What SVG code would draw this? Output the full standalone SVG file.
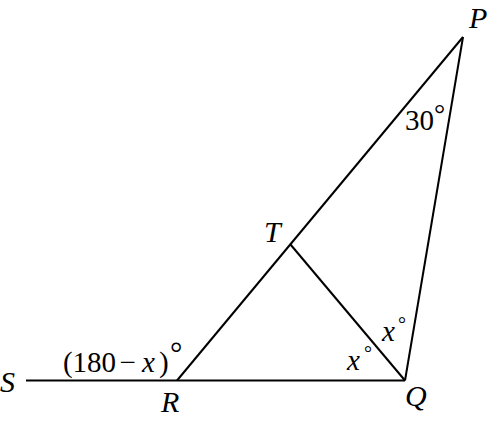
<svg xmlns="http://www.w3.org/2000/svg" width="491" height="423" viewBox="0 0 491 423">
<style>
.ln{stroke:#000;stroke-width:2;fill:none;stroke-linecap:butt}
.t{font-family:"Liberation Serif","Times New Roman",serif;font-size:29px;fill:#000}
.L{font-family:"Liberation Serif","Times New Roman",serif;font-size:30px;font-style:italic;fill:#000}
.i{font-style:italic}
.d{font-family:"Liberation Serif","Times New Roman",serif;fill:#000}
</style>
<rect width="491" height="423" fill="#fff"/>
<g id="connectors">
<line class="ln" x1="26" y1="380.5" x2="405" y2="380.5"/>
<line class="ln" x1="177" y1="380.5" x2="463" y2="37"/>
<line class="ln" x1="463" y1="37" x2="405" y2="380.5"/>
<line class="ln" x1="290.5" y1="244.5" x2="405" y2="380.5"/>
</g>
<g id="node-S"><text class="L" x="0" y="392">S</text></g>
<g id="node-R"><text class="L" x="161" y="412">R</text></g>
<g id="node-Q"><text class="L" x="405" y="406">Q</text></g>
<g id="node-T"><text class="L" x="264" y="242">T</text></g>
<g id="node-P"><text class="L" x="469" y="28" font-size="28">P</text></g>
<g id="label-angle-SR">
<text class="t" x="63" y="372">(</text>
<text class="t" x="72.5" y="372">180</text>
<text class="t" x="119.5" y="372">−</text>
<text class="t i" x="142" y="372" font-size="30">x</text>
<text class="t" x="159" y="372">)</text>
<text class="d" x="170" y="364" font-size="31">°</text>
</g>
<g id="label-angle-P"><text class="t" x="405" y="130" font-size="28">30</text><text class="d" x="434" y="122.5" font-size="28">°</text></g>
<g id="label-angle-Q1"><text class="t i" x="382" y="341" font-size="28">x</text><text class="d" x="398" y="331" font-size="20">°</text></g>
<g id="label-angle-Q2"><text class="t i" x="347" y="370" font-size="28">x</text><text class="d" x="364" y="360" font-size="20">°</text></g>
</svg>
